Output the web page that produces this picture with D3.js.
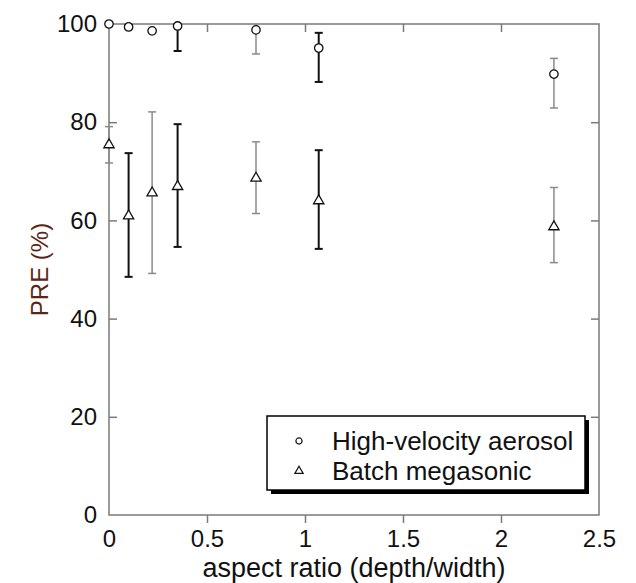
<!DOCTYPE html>
<html>
<head>
<meta charset="utf-8">
<script src="https://cdn.jsdelivr.net/npm/d3@7"></script>
<style>
  body { margin: 0; background: #fff; }
  text { font-family: Arial, "Liberation Sans", sans-serif; }
</style>
</head>
<body>
<div id="chart"></div>
<script>
// data
const aspectRatio = [0, 0.1, 0.22, 0.35, 0.75, 1.07, 2.27];
const aerosolPRE = [100, 99.4, 98.6, 99.6, 98.8, 95.1, 89.8];
const aerosolLow = [99.6, 99.0, 98.2, 94.5, 93.9, 88.2, 82.9];
const aerosolHigh = [100.4, 99.8, 99.0, 102, 103, 98.2, 93.0];
const megasonicPRE = [75.4, 60.9, 65.6, 66.9, 68.6, 64.0, 58.7];
const megasonicLow = [71.7, 48.5, 49.2, 54.6, 61.4, 54.2, 51.4];
const megasonicHigh = [79.1, 73.7, 82.1, 79.6, 76.0, 74.3, 66.7];
const xTicks = [0, 0.5, 1, 1.5, 2, 2.5];
const yTicks = [0, 20, 40, 60, 80, 100];
const seriesNames = ["High-velocity aerosol", "Batch megasonic"];

const width = 636, height = 583;
const margin = { top: 24, right: 37, bottom: 68, left: 109 };
const w = width - margin.left - margin.right;
const h = height - margin.top - margin.bottom;

const svg = d3.select("#chart").append("svg")
  .attr("width", width)
  .attr("height", height);

const g = svg.append("g")
  .attr("transform", `translate(${margin.left},${margin.top})`);

const x = d3.scaleLinear().domain([0, 2.5]).range([0, w]);
const y = d3.scaleLinear().domain([0, 100]).range([h, 0]);

const axisColor = "#7a7a7a";

//frame
g.append("rect")
  .attr("width", w).attr("height", h)
  .attr("fill", "none")
  .attr("stroke", axisColor)
  .attr("stroke-width", 1.5);

//inward ticks on all four sides
function styleAxis(sel) {
  sel.select(".domain").remove();
  sel.selectAll(".tick line").attr("stroke", axisColor).attr("stroke-width", 1.5);
  sel.selectAll(".tick text")
    .attr("fill", "#111")
    .style("font-size", "24px");
}
const innerX = (v) => v > 0 && v < 2.5;
const innerY = (v) => v > 0 && v < 100;

g.append("g")
  .attr("transform", `translate(0,${h})`)
  .call(d3.axisBottom(x).tickValues(xTicks).tickSize(0).tickPadding(15)
    .tickFormat(d3.format("")))
  .call(styleAxis);
g.append("g")
  .attr("transform", `translate(0,${h})`)
  .call(d3.axisTop(x).tickValues(xTicks.filter(innerX)).tickSize(-8).tickFormat(""))
  .call(styleAxis);
g.append("g")
  .call(d3.axisTop(x).tickValues(xTicks.filter(innerX)).tickSize(-8).tickFormat(""))
  .call(styleAxis);

g.append("g")
  .call(d3.axisLeft(y).tickValues(yTicks).tickSize(0).tickPadding(12))
  .call(styleAxis);
g.append("g")
  .call(d3.axisRight(y).tickValues(yTicks.filter(innerY)).tickSize(8).tickFormat(""))
  .call(styleAxis);
g.append("g")
  .attr("transform", `translate(${w},0)`)
  .call(d3.axisLeft(y).tickValues(yTicks.filter(innerY)).tickSize(8).tickFormat(""))
  .call(styleAxis);

//axis labels
svg.append("text")
  .attr("x", margin.left + w / 2)
  .attr("y", 577)
  .attr("text-anchor", "middle")
  .attr("fill", "#111")
  .style("font-size", "27px")
  .text("aspect ratio (depth/width)");

svg.append("text")
  .attr("transform", `translate(48,${margin.top + h / 2}) rotate(-90)`)
  .attr("text-anchor", "middle")
  .attr("fill", "#5a2616")
  .style("font-size", "24px")
  .text("PRE (%)");

svg.append("clipPath").attr("id", "plotclip")
  .append("rect").attr("x", -6).attr("y", 0).attr("width", w + 12).attr("height", h);

const plot = g.append("g").attr("clip-path", "url(#plotclip)");

//error bars, alternating black / gray like the scan
function errorBars(lo, hi) {
  const bars = plot.append("g");
  aspectRatio.forEach((a, i) => {
    const col = i % 2 === 1 ? "#111" : "#8a8a8a";
    const sw = i % 2 === 1 ? 2 : 1.5;
    const bx = x(a);
    const b = bars.append("g").attr("stroke", col).attr("stroke-width", sw);
    b.append("line").attr("x1", bx).attr("x2", bx).attr("y1", y(lo[i])).attr("y2", y(hi[i]));
    b.append("line").attr("x1", bx - 4).attr("x2", bx + 4).attr("y1", y(lo[i])).attr("y2", y(lo[i]));
    b.append("line").attr("x1", bx - 4).attr("x2", bx + 4).attr("y1", y(hi[i])).attr("y2", y(hi[i]));
  });
}
errorBars(aerosolLow, aerosolHigh);
errorBars(megasonicLow, megasonicHigh);

const circleSym = d3.symbol().type(d3.symbolCircle).size(56);
const triSym = d3.symbol().type(d3.symbolTriangle).size(46);

g.selectAll(".aero")
  .data(aspectRatio)
  .enter()
  .append("path")
  .attr("d", circleSym)
  .attr("transform", (d, i) => `translate(${x(d)},${y(aerosolPRE[i])})`)
  .attr("fill", "white")
  .attr("stroke", "#111")
  .attr("stroke-width", 1.3);

g.selectAll(".mega")
  .data(aspectRatio)
  .enter()
  .append("path")
  .attr("d", triSym)
  .attr("transform", (d, i) => `translate(${x(d)},${y(megasonicPRE[i])})`)
  .attr("fill", "white")
  .attr("stroke", "#111")
  .attr("stroke-width", 1.3);

//legend with drop shadow
const lg = svg.append("g").attr("transform", "translate(267,416)");
lg.append("rect").attr("x", 4).attr("y", 4).attr("width", 318).attr("height", 74).attr("fill", "#000");
lg.append("rect").attr("width", 318).attr("height", 74)
  .attr("fill", "white").attr("stroke", "#000").attr("stroke-width", 1.5);

[circleSym, triSym].forEach((sym, i) => {
  lg.append("path")
    .attr("d", sym.size(30))
    .attr("transform", `translate(32,${25 + i * 30})`)
    .attr("fill", "white")
    .attr("stroke", "#111")
    .attr("stroke-width", 1.2);
  lg.append("text")
    .attr("x", 65)
    .attr("y", 34 + i * 30)
    .attr("fill", "#111")
    .style("font-size", "26px")
    .text(seriesNames[i]);
});
</script>
</body>
</html>
